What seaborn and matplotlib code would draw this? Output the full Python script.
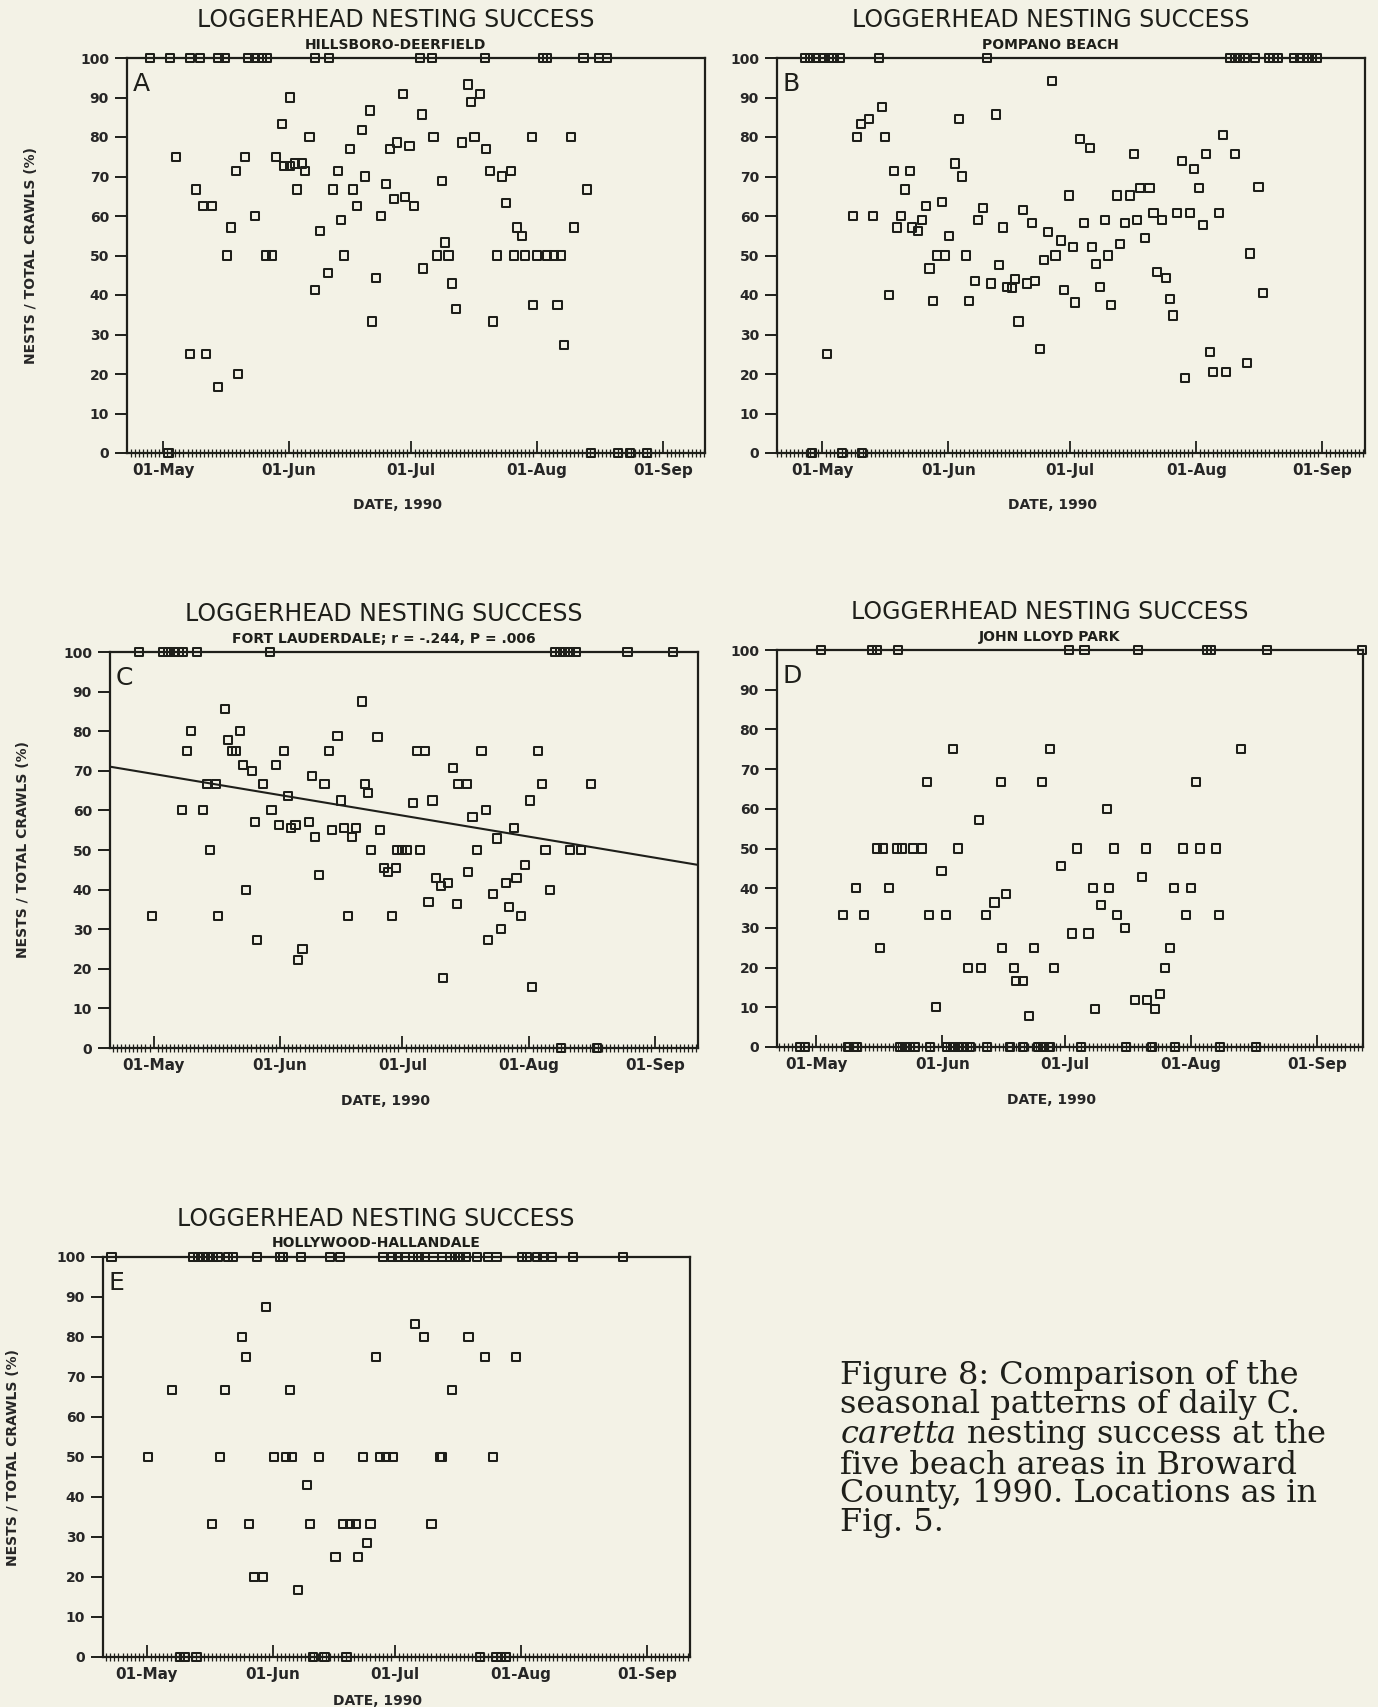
import numpy as np
import pandas as pd
import matplotlib
matplotlib.use("Agg")
import matplotlib.pyplot as plt
from matplotlib.ticker import MultipleLocator, FixedLocator
import seaborn as sns

# ---------------------------------------------------------------------------
# Daily loggerhead nesting success (nests / total crawls, %), Broward Co. 1990
# x = days after 01-May
# ---------------------------------------------------------------------------
month_days = [0, 31, 61, 92, 123]
month_labels = ["01-May", "01-Jun", "01-Jul", "01-Aug", "01-Sep"]

# A: Hillsboro-Deerfield
a_full = [-3.2, 1.7, 6.5, 9.1, 13.6, 15.3, 21.0, 22.6, 24.3, 25.5, 37.4, 40.7,
          63.2, 66.1, 79.2, 93.5, 94.4, 103.4, 107.3, 109.1]
a_zero = [1.3, 105.2, 112.0, 114.9, 119.1]
a_pts = [(3.1, 75), (8.0, 66.7), (9.9, 62.5), (12.0, 62.5), (6.5, 25), (10.5, 25),
         (13.4, 16.7), (18.3, 20), (15.7, 50), (16.7, 57.1), (18.0, 71.4), (20.2, 75),
         (22.6, 60), (25.3, 50), (26.7, 50), (27.7, 75), (29.2, 83.3), (29.8, 72.7),
         (31.3, 72.7), (32.5, 73.3), (34.1, 73.3), (34.9, 71.4), (31.3, 90), (32.9, 66.7),
         (36.0, 80), (37.4, 41.2), (38.6, 56.3), (40.5, 45.5), (41.8, 66.7), (42.9, 71.4),
         (43.7, 59.1), (44.5, 50), (45.9, 76.9), (46.7, 66.7), (47.7, 62.5), (48.9, 81.8),
         (49.7, 70), (50.9, 86.7), (51.4, 33.3), (52.4, 44.4), (53.6, 60), (54.8, 68.2),
         (55.7, 76.9), (57.5, 78.6), (56.7, 64.3), (59.6, 64.7), (61.6, 62.5), (60.6, 77.8),
         (59.1, 90.9), (63.6, 85.7), (66.5, 80), (68.5, 68.8), (69.4, 53.3), (67.3, 50),
         (70.2, 50), (64.0, 46.7), (71.0, 42.9), (72.1, 36.4), (75.1, 93.3), (78.0, 90.9),
         (75.8, 88.9), (73.6, 78.6), (76.6, 80), (79.4, 76.9), (80.3, 71.4), (83.3, 70),
         (85.6, 71.4), (84.4, 63.2), (87.1, 57.1), (88.2, 55), (82.1, 50), (86.2, 50),
         (89.0, 50), (91.9, 50), (94.5, 50), (96.2, 50), (97.8, 50), (90.9, 37.5),
         (97.0, 37.5), (81.1, 33.3), (98.7, 27.3), (90.7, 80), (100.3, 80), (101.1, 57.1),
         (104.2, 66.7)]

# B: Pompano Beach
b_full = [-4.2, -3.0, -1.5, 0.3, 1.6, 2.8, 4.4, 13.9, 40.5, 100.2, 101.6, 102.8,
          104.0, 106.5, 109.8, 111.0, 112.2, 116.0, 117.6, 119.2, 120.5, 121.7]
b_zero = [-2.5, 4.8, 9.8]
b_pts = [(1.1, 25), (7.5, 60), (8.5, 80), (9.6, 83.3), (11.6, 84.6), (12.5, 60),
         (14.7, 87.5), (15.5, 80), (16.5, 40), (17.6, 71.4), (21.7, 71.4), (18.4, 57.1),
         (19.4, 60), (20.4, 66.7), (22.1, 57.1), (23.5, 56.3), (24.5, 59.1), (25.6, 62.5),
         (26.4, 46.7), (27.2, 38.5), (28.2, 50), (30.3, 50), (29.5, 63.6), (31.3, 55),
         (32.6, 73.3), (33.6, 84.6), (34.5, 70), (35.4, 50), (36.2, 38.5), (37.5, 43.5),
         (38.3, 59.1), (39.5, 62.1), (41.6, 42.9), (42.7, 85.7), (43.4, 47.6), (44.5, 57.1),
         (45.4, 42.1), (46.7, 41.7), (47.5, 44), (48.3, 33.3), (49.4, 61.5), (50.4, 42.9),
         (52.3, 43.5), (51.6, 58.3), (53.5, 26.3), (54.5, 48.9), (55.5, 56), (56.6, 94.1),
         (57.4, 50), (58.7, 53.8), (61.6, 52.2), (59.4, 41.2), (62.2, 38.1), (60.6, 65.2),
         (63.5, 79.5), (65.8, 77.3), (64.3, 58.3), (66.3, 52.2), (67.4, 47.8), (68.4, 42.1),
         (69.5, 59.1), (70.4, 50), (71.1, 37.5), (73.3, 52.9), (72.6, 65.2), (75.6, 65.2),
         (74.5, 58.3), (77.4, 59.1), (76.6, 75.6), (78.2, 67.2), (80.5, 67.2), (79.5, 54.5),
         (81.5, 60.7), (83.6, 59.1), (82.3, 45.8), (84.6, 44.4), (85.6, 39.1), (86.3, 34.8),
         (87.3, 60.7), (90.5, 60.7), (88.5, 73.9), (91.5, 71.9), (89.3, 19), (92.6, 67.2),
         (93.6, 57.7), (94.5, 75.6), (95.3, 25.6), (96.1, 20.5), (99.4, 20.5), (97.5, 60.7),
         (98.5, 80.6), (101.6, 75.6), (104.5, 22.7), (105.3, 50.5), (107.3, 67.3),
         (108.4, 40.6)]

# C: Fort Lauderdale (with regression line)
c_full = [-3.5, 2.4, 3.6, 4.9, 6.1, 7.2, 10.6, 28.5, 98.4, 99.6, 100.9, 102.1,
          103.6, 116.2, 127.3]
c_zero = [99.9, 108.8]
c_pts = [(-0.3, 33.3), (6.9, 60), (8.1, 75), (9.2, 80), (12.0, 60), (13.0, 66.7),
         (15.3, 66.7), (13.9, 50), (15.7, 33.3), (17.4, 85.7), (18.3, 77.8), (19.2, 75),
         (20.2, 75), (21.2, 80), (22.0, 71.4), (24.1, 70), (22.7, 40), (24.9, 57.1),
         (25.4, 27.3), (26.9, 66.7), (28.9, 60), (30.0, 71.4), (30.8, 56.3), (33.7, 55.6),
         (34.8, 56.3), (32.0, 75), (32.9, 63.6), (35.3, 22.2), (36.5, 25), (38.0, 57.1),
         (38.9, 68.8), (39.6, 53.3), (40.6, 43.8), (41.9, 66.7), (43.0, 75), (43.7, 55),
         (45.1, 78.9), (45.9, 62.5), (46.7, 55.6), (48.6, 53.3), (49.7, 55.6), (47.6, 33.3),
         (51.0, 87.5), (51.8, 66.7), (52.6, 64.3), (53.3, 50), (54.9, 78.6), (55.5, 55),
         (56.5, 45.5), (57.4, 44.4), (59.4, 45.5), (58.4, 33.3), (59.6, 50), (60.9, 50),
         (62.1, 50), (65.3, 50), (63.5, 61.9), (64.6, 75), (66.5, 75), (68.4, 62.5),
         (69.2, 42.9), (70.4, 40.9), (72.3, 41.7), (67.4, 36.8), (71.0, 17.6), (73.5, 70.6),
         (74.7, 66.7), (76.8, 66.7), (74.3, 36.4), (77.2, 44.4), (78.2, 58.3), (81.5, 60),
         (79.2, 50), (80.4, 75), (82.1, 27.3), (83.3, 38.9), (84.3, 52.9), (85.1, 30),
         (86.4, 41.7), (87.2, 35.7), (88.4, 55.6), (89.0, 42.9), (90.2, 33.3), (91.1, 46.2),
         (92.3, 62.5), (92.9, 15.4), (94.3, 75), (95.3, 66.7), (96.1, 50), (97.2, 40),
         (102.1, 50), (104.9, 50), (107.2, 66.7)]
c_trend = (69.2, -0.172)   # intercept (%), slope (% per day)

# D: John Lloyd Park
d_full = [1.1, 13.7, 14.9, 20.2, 62.2, 65.9, 79.0, 95.9, 96.9, 110.7, 134.0]
d_zero = [-3.9, -2.7, 7.9, 9.2, 10.0, 20.6, 21.8, 23.1, 24.3, 28.0, 32.1, 33.6,
          34.9, 36.2, 37.8, 41.9, 47.6, 50.9, 54.6, 55.8, 57.5, 65.0, 76.1, 82.4,
          88.1, 99.2, 108.0]
d_pts = [(6.7, 33.3), (9.7, 40), (11.8, 33.3), (15.7, 25), (14.9, 50), (16.5, 50),
         (19.8, 50), (21.0, 50), (23.7, 50), (25.9, 50), (18.0, 40), (27.3, 66.7),
         (27.8, 33.3), (29.4, 10), (30.8, 44.4), (31.8, 33.3), (33.6, 75), (34.9, 50),
         (37.4, 20), (40.4, 20), (40.0, 57.1), (41.7, 33.3), (43.8, 36.4), (45.3, 66.7),
         (45.6, 25), (46.6, 38.5), (48.5, 20), (49.1, 16.7), (50.7, 16.7), (52.3, 7.7),
         (53.5, 25), (55.4, 66.7), (57.4, 75), (58.4, 20), (60.1, 45.5), (64.0, 50),
         (62.8, 28.6), (66.9, 28.6), (67.9, 40), (72.0, 40), (69.9, 35.7), (68.5, 9.5),
         (71.4, 60), (73.2, 50), (74.0, 33.3), (75.9, 30), (80.0, 42.9), (81.0, 50),
         (78.3, 11.8), (81.2, 11.8), (83.2, 9.5), (84.5, 13.3), (85.7, 20), (86.8, 25),
         (87.9, 40), (92.0, 40), (90.2, 50), (94.3, 50), (98.2, 50), (90.8, 33.3),
         (98.9, 33.3), (93.2, 66.7), (104.3, 75)]

# E: Hollywood-Hallandale
e_full = [-8.7, 11.4, 12.6, 13.9, 15.1, 16.3, 17.5, 20.0, 21.2, 27.0, 32.7, 33.5,
          38.0, 45.0, 47.5, 58.1, 60.2, 61.8, 63.5, 65.5, 66.8, 68.4, 70.5, 72.5,
          74.5, 75.8, 77.0, 78.6, 81.1, 84.0, 86.0, 92.2, 93.4, 95.9, 97.5, 99.6,
          104.9, 117.2]
e_zero = [8.1, 9.3, 12.2, 40.9, 43.7, 49.1, 81.9, 86.0, 87.2, 88.3]
e_pts = [(0.2, 50), (6.2, 66.7), (16.1, 33.3), (17.9, 50), (19.2, 66.7), (23.3, 80),
         (24.3, 75), (25.1, 33.3), (26.3, 20), (28.5, 20), (29.3, 87.5), (31.2, 50),
         (34.2, 50), (35.8, 50), (35.3, 66.7), (37.2, 16.7), (39.3, 42.9), (40.2, 33.3),
         (42.3, 50), (46.4, 25), (48.3, 33.3), (49.9, 33.3), (51.4, 33.3), (52.0, 25),
         (53.2, 50), (54.2, 28.6), (55.0, 33.3), (56.3, 75), (57.3, 50), (58.9, 50),
         (60.6, 50), (65.9, 83.3), (68.1, 80), (79.1, 80), (83.1, 75), (90.9, 75),
         (75.0, 66.7), (72.1, 50), (72.7, 50), (85.2, 50), (70.0, 33.3)]

panel_letters = ["A", "B", "C", "D", "E"]
panel_sites = ["HILLSBORO-DEERFIELD", "POMPANO BEACH",
               "FORT LAUDERDALE; r = -.244, P = .006",
               "JOHN LLOYD PARK", "HOLLYWOOD-HALLANDALE"]
panel_data = [(a_full, a_zero, a_pts), (b_full, b_zero, b_pts), (c_full, c_zero, c_pts),
              (d_full, d_zero, d_pts), (e_full, e_zero, e_pts)]

caption_lines = ["Figure 8: Comparison of the",
                 "seasonal patterns of daily C.",
                 r"$\mathit{caretta}$ nesting success at the",
                 "five beach areas in Broward",
                 "County, 1990. Locations as in",
                 "Fig. 5."]

# ---------------------------------------------------------------------------
W, H = 1378, 1707
paper = "#f3f2e6"
ink = "#1e1f1a"

sns.set_theme(style="ticks")
plt.rcParams["font.family"] = ["DejaVu Sans"]
plt.rcParams["mathtext.fontset"] = "dejavuserif"
plt.rcParams["axes.edgecolor"] = ink
plt.rcParams["text.color"] = ink

# axes boxes in pixels: left, top, right, bottom, x-limits in days, x-label height
boxes = [(127, 58, 705, 453, -8.9, 133.3, -0.115),
         (777, 58, 1365, 453, -11.1, 133.5, -0.115),
         (110, 652, 698, 1048, -10.7, 133.5, -0.115),
         (777, 650, 1363, 1047, -9.6, 134.3, -0.115),
         (103, 1257, 690, 1657, -10.8, 133.6, -0.093)]
ylabel_x = {0: -0.154, 2: -0.136, 4: -0.141}

fig = plt.figure(figsize=(W / 100, H / 100), dpi=100, facecolor=paper)

for i, (l, t, r, b, x0, x1, xl_y) in enumerate(boxes):
    ax = fig.add_axes([l / W, 1 - b / H, (r - l) / W, (b - t) / H])
    ax.set_facecolor(paper)
    full, zero, pts = panel_data[i]
    df = pd.DataFrame({
        "day": list(full) + list(zero) + [p[0] for p in pts],
        "pct": [100.0] * len(full) + [0.0] * len(zero) + [p[1] for p in pts],
    })
    sns.scatterplot(data=df, x="day", y="pct", marker="s", s=34,
                    facecolors="none", edgecolor=ink, linewidth=1.45,
                    clip_on=False, zorder=3, legend=False, ax=ax)

    if i == 2:
        xs = np.array([x0, x1])
        ax.plot(xs, c_trend[0] + c_trend[1] * xs, color=ink, lw=1.5, zorder=2)

    ax.set_xlim(x0, x1)
    ax.set_ylim(0, 100)
    for s in ax.spines.values():
        s.set_visible(True)
        s.set_linewidth(1.6)
        s.set_color(ink)

    ax.yaxis.set_major_locator(MultipleLocator(10))
    ax.xaxis.set_major_locator(FixedLocator(month_days))
    ax.xaxis.set_minor_locator(MultipleLocator(1))
    ax.set_xticklabels(month_labels)
    ax.tick_params(axis="y", direction="out", length=9, width=1.4, color=ink,
                   labelsize=10, pad=4)
    ax.tick_params(axis="x", which="major", direction="in", length=9, width=1.3,
                   color=ink, labelsize=11, pad=7)
    ax.tick_params(axis="x", which="minor", direction="inout", length=6, width=0.9,
                   color=ink)
    for lab in ax.get_xticklabels() + ax.get_yticklabels():
        lab.set_fontweight("bold")

    ax.set_xlabel("DATE, 1990", fontsize=10, fontweight="bold")
    ax.xaxis.set_label_coords(0.468, xl_y)
    if i in ylabel_x:
        ax.set_ylabel("NESTS / TOTAL CRAWLS (%)", fontsize=10, fontweight="bold")
        ax.yaxis.set_label_coords(ylabel_x[i], 0.5)
    else:
        ax.set_ylabel("")

    ax.text(0.465, 1.096, "LOGGERHEAD NESTING SUCCESS", transform=ax.transAxes,
            ha="center", va="center", fontsize=17)
    ax.text(0.465, 1.034, panel_sites[i], transform=ax.transAxes,
            ha="center", va="center", fontsize=10, fontweight="bold")
    ax.text(0.01, 0.965, panel_letters[i], transform=ax.transAxes,
            ha="left", va="top", fontsize=18)

# caption, one block of tightly spaced lines
fig.text(840 / W, 1 - 1360 / H, "\n".join(caption_lines), ha="left", va="top",
         fontsize=23, family="DejaVu Serif", linespacing=0.9)

fig.savefig("out.png", dpi=100, facecolor=paper)
